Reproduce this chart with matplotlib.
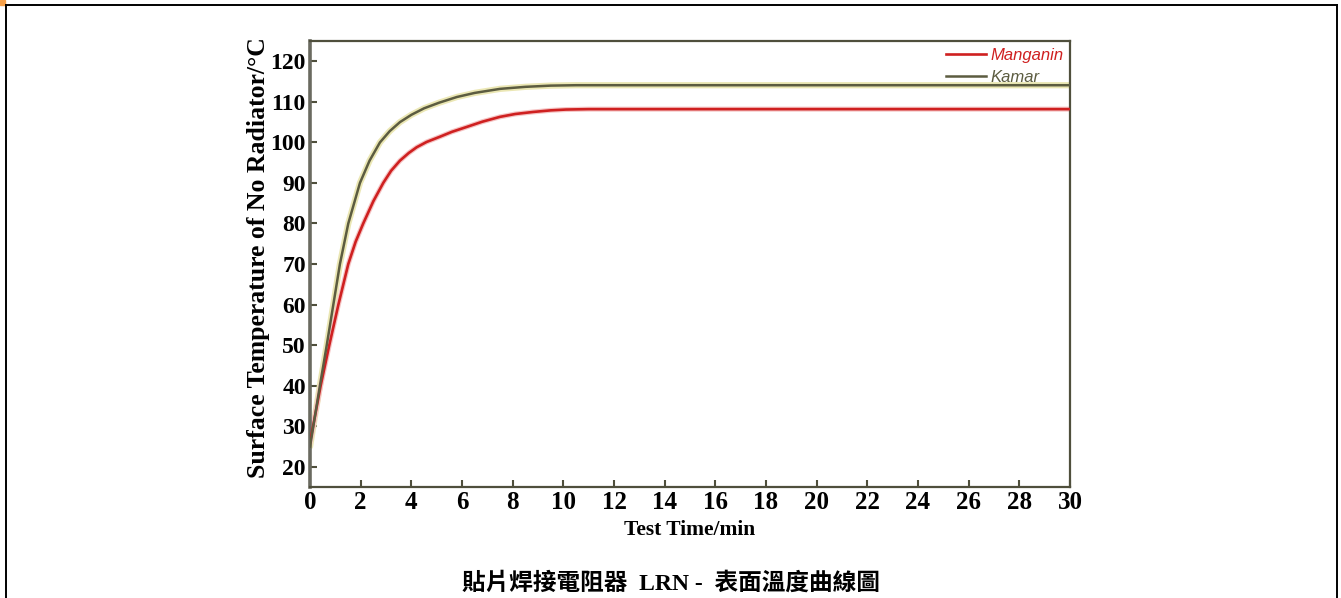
import matplotlib
matplotlib.use("Agg")
from matplotlib import pyplot as plt
from matplotlib.lines import Line2D
from matplotlib.patches import Rectangle

# readings from the reference picture
kamar_t = [0, 0.39, 0.66, 0.92, 1.18, 1.51, 1.97, 2.35, 2.76, 3.15, 3.55, 4.0, 4.5,
           5.1, 5.8, 6.5, 7.5, 8.5, 9.5, 10.5, 30]
kamar_T = [25, 40, 50, 60, 70, 80, 90, 95.5, 100, 102.8, 105, 106.8, 108.4,
           109.8, 111.2, 112.2, 113.2, 113.7, 114, 114.1, 114.1]

mang_t = [0, 0.42, 0.76, 1.12, 1.51, 1.8, 2.1, 2.5, 2.89, 3.2, 3.55, 3.9, 4.21, 4.6,
          5.13, 5.6, 6.18, 6.8, 7.5, 8.1, 8.8, 9.5, 10.1, 11, 30]
mang_T = [26, 40, 50, 60, 70, 75.5, 80, 85.5, 90, 93, 95.5, 97.4, 98.8, 100.1,
          101.4, 102.6, 103.8, 105.1, 106.3, 107.0, 107.5, 107.9, 108.1, 108.2, 108.2]

x_ticks = list(range(0, 31, 2))
y_ticks = list(range(20, 121, 10))

title = "貼片焊接電阻器  LRN -  表面溫度曲線圖"

serif = ["Liberation Serif", "DejaVu Serif"]
axc = "#4f4f3c"

fig = plt.figure(figsize=(13.41, 5.98), dpi=100)
ax = fig.add_axes([0.2312, 0.1856, 0.5667, 0.7458])

# pale halo under the curves, as in the scan
ax.plot(kamar_t, kamar_T, color="#ebe7b4", lw=4.5, solid_capstyle="round", zorder=2)
ax.plot(mang_t, mang_T, color="#f5c4c4", lw=3.6, zorder=2)
l1, = ax.plot(mang_t, mang_T, color="#cf2020", lw=1.9, zorder=3, label="Manganin")
l2, = ax.plot(kamar_t, kamar_T, color="#5c5c40", lw=1.8, zorder=4, label="Kamar")

ax.set_xlim(0, 30)
ax.set_ylim(15, 125)
ax.set_xticks(x_ticks)
ax.set_yticks(y_ticks)
ax.tick_params(direction="in", length=5, width=1.5, color=axc, pad=3)
for lab in ax.get_yticklabels():
    lab.set_family(serif)
    lab.set_fontweight("bold")
    lab.set_fontsize(17)
for lab in ax.get_xticklabels():
    lab.set_family(serif)
    lab.set_fontweight("bold")
    lab.set_fontsize(18)
for s in ax.spines.values():
    s.set_color(axc)
    s.set_linewidth(1.6)
ax.spines["left"].set_linewidth(2.6)
ax.spines["left"].set_color("#6a6a60")

ax.set_ylabel("Surface Temperature of No Radiator/°C", family=serif,
              fontweight="bold", fontsize=18.5)
ax.yaxis.set_label_coords(-0.0525, 0.515)
ax.set_xlabel("Test Time/min", family=serif, fontweight="bold", fontsize=15.5, labelpad=4)

leg = ax.legend(handles=[l1, l2], loc="upper right", frameon=False,
                prop={"family": "Liberation Sans", "style": "italic", "size": 12},
                handlelength=2.4, handletextpad=0.25, borderaxespad=0.0,
                labelspacing=0.45)
for txt, ln in zip(leg.get_texts(), [l1, l2]):
    txt.set_color(ln.get_color())

fig.text(0.5, 0.024, title, ha="center", va="center", fontsize=17, fontweight="bold",
         family=["Liberation Serif", "Noto Sans CJK TC"])

# page frame around the figure
x0, x1, y0 = 6 / 1341, 1337 / 1341, 1 - 5 / 598
for xs, ys in [([x0, x1], [y0, y0]), ([x0, x0], [0, y0]), ([x1, x1], [0, y0])]:
    fig.add_artist(Line2D(xs, ys, color="black", lw=1.4, transform=fig.transFigure))
fig.add_artist(Rectangle((0, 1 - 5 / 598), 5 / 1341, 5 / 598, color="#f5a04a",
                         transform=fig.transFigure))

fig.savefig("out.png", dpi=100)
